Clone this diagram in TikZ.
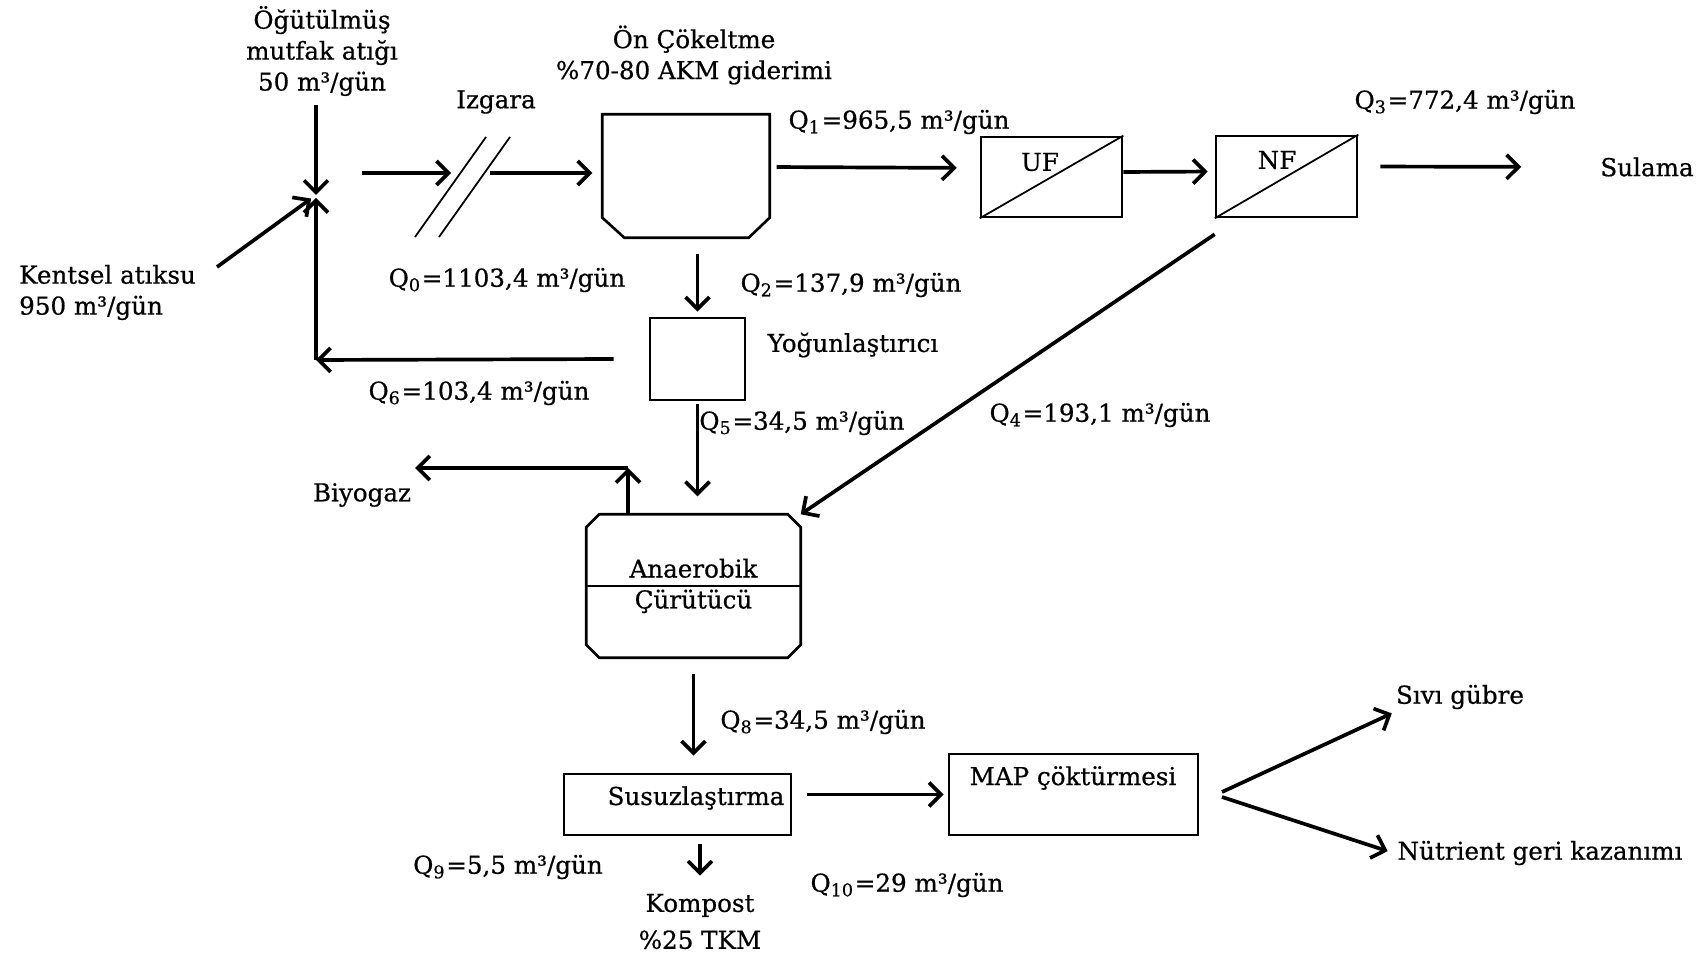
\documentclass[tikz,border=0pt]{standalone}
\usepackage{fontspec}
\setmainfont{DejaVu Serif}[FakeBold=0.6]
\usepackage{tikz}
\usetikzlibrary{arrows.meta,positioning,calc}
\newcommand{\Qi}[1]{Q\textsubscript{#1}}
\newcommand{\gun}{m³/gün}

\begin{document}
\begin{tikzpicture}[
    txt/.style={font=\fontsize{7}{8.8}\selectfont, inner sep=1pt, align=center},
    unitbox/.style={draw, line width=0.75pt, inner sep=0pt},
    flow/.style={-{Straight Barb[length=1.2mm,width=2.4mm]}, line width=1.05pt},
    thinline/.style={line width=0.5pt}
]
\useasboundingbox (0,0) rectangle (17.06,-9.56);

% process units
\node[minimum width=1.66cm, minimum height=1.22cm, inner sep=0pt] (onc) at (6.86,-1.76) {};
\draw[line width=0.75pt] (onc.north west) -- ([yshift=2mm]onc.south west) -- ([xshift=2.2mm]onc.south west)
    -- ([xshift=-2.1mm]onc.south east) -- ([yshift=2mm]onc.south east) -- (onc.north east) -- cycle;
\node[unitbox, minimum width=0.95cm, minimum height=0.82cm] (yog) at (6.975,-3.59) {};
\node[unitbox, minimum width=1.41cm, minimum height=0.80cm] (uf) at (10.515,-1.77) {};
\node[unitbox, minimum width=1.41cm, minimum height=0.81cm] (nf) at (12.865,-1.765) {};
\draw[thinline] (uf.south west) -- (uf.north east);
\draw[thinline] (nf.south west) -- (nf.north east);
\node[txt, minimum width=2.13cm, minimum height=1.42cm] (dig) at (6.935,-5.86) {Anaerobik\\Çürütücü};
\draw[line width=0.75pt] ([xshift=1.3mm]dig.north west) -- ([xshift=-1.3mm]dig.north east)
    -- ([yshift=-1.3mm]dig.north east) -- ([yshift=1.3mm]dig.south east) -- ([xshift=-1.3mm]dig.south east)
    -- ([xshift=1.3mm]dig.south west) -- ([yshift=1.3mm]dig.south west) -- ([yshift=-1.3mm]dig.north west) -- cycle;
\draw[line width=0.75pt] (dig.west) -- (dig.east);
\node[unitbox, minimum width=2.27cm, minimum height=0.61cm] (sus) at (6.775,-8.045) {};
\node[unitbox, minimum width=2.49cm, minimum height=0.81cm] (map) at (10.735,-7.945) {};

% screen
\draw[thinline] (4.15,-2.37) -- (4.86,-1.37);
\draw[thinline] (4.39,-2.37) -- (5.10,-1.37);

% texts
\node[txt] (mutfak) at (3.22,-0.51) {Öğütülmüş\\mutfak atığı\\50 \gun};
\node[txt, anchor=west, align=left] (kentsel) at (0.15,-2.925) {Kentsel atıksu\\950 \gun};
\node[txt] (izgara) at (4.96,-1.02) {Izgara};
\node[txt] (onct) at (6.94,-0.55) {Ön Çökeltme\\\%70-80 AKM giderimi};
\node[txt] (uft) at (10.40,-1.62) {UF};
\node[txt] (nft) at (12.77,-1.60) {NF};
\node[txt] (yogt) at (8.53,-3.45) {Yoğunlaştırıcı};
\node[txt] (sust) at (6.96,-7.98) {Susuzlaştırma};
\node[txt] (mapt) at (10.73,-7.78) {MAP çöktürmesi};
\node[txt] (sulama) at (16.47,-1.67) {Sulama};
\node[txt] (biyogaz) at (3.62,-4.95) {Biyogaz};
\node[txt] (kompost) at (7.00,-9.215) {Kompost\\[1.7pt]\%25 TKM};
\node[txt] (sivi) at (14.60,-6.97) {Sıvı gübre};
\node[txt] (nutrient) at (15.40,-8.53) {Nütrient geri kazanımı};

% flow rates
\node[txt] (q0) at (5.07,-2.80) {\Qi{0}=1103,4 \gun};
\node[txt] (q1) at (8.99,-1.22) {\Qi{1}=965,5 \gun};
\node[txt] (q2) at (8.51,-2.85) {\Qi{2}=137,9 \gun};
\node[txt] (q3) at (14.65,-1.02) {\Qi{3}=772,4 \gun};
\node[txt] (q4) at (11.00,-4.15) {\Qi{4}=193,1 \gun};
\node[txt] (q5) at (8.02,-4.23) {\Qi{5}=34,5 \gun};
\node[txt] (q6) at (4.79,-3.93) {\Qi{6}=103,4 \gun};
\node[txt] (q8) at (8.23,-7.22) {\Qi{8}=34,5 \gun};
\node[txt] (q9) at (5.08,-8.67) {\Qi{9}=5,5 \gun};
\node[txt] (q10) at (9.07,-8.85) {\Qi{10}=29 \gun};

% free ends
\coordinate (jn) at (3.16,-1.95);
\coordinate (rc) at (3.16,-3.60);
\coordinate (kin) at (2.17,-2.67);
\coordinate (in0) at (3.62,-1.73);
\coordinate (scrin) at (4.51,-1.73);
\coordinate (scrout) at (4.90,-1.73);
\coordinate (bg) at (6.28,-4.68);
\coordinate (spl) at (12.22,-7.92);

% connectors
\draw[flow, shorten <=0.5mm] (jn |- mutfak.south) -- (jn);
\draw[flow, shorten >=0.6mm] (kin) -- (jn);
\draw[flow] ([xshift=-3.5mm]yog.west) -- (rc);
\draw[flow, shorten >=0.3mm] (rc) -- (jn);
\draw[flow] (in0) -- (scrin);
\draw[flow, shorten >=1mm] (scrout) -- (scrout -| onc.west);
\draw[flow, shorten <=0.7mm, shorten >=2.3mm] ([yshift=0.9mm]onc.east) -- ([yshift=0.9mm]uf.west);
\draw[flow, shorten >=0.7mm] ([yshift=0.5mm]uf.east) -- ([yshift=0.5mm]nf.west);
\draw[flow, shorten <=2.2mm, shorten >=7.5mm] ([yshift=1mm]nf.east) -- (sulama.west);
\draw[flow, shorten <=1.6mm, shorten >=0.5mm] (yog.north |- onc.south) -- (yog.north);
\draw[flow, shorten <=0.3mm, shorten >=1.8mm] (yog.south) -- (yog.south |- dig.north);
\draw[flow] ([yshift=-1.6mm]nf.south west) -- (dig.north east);
\draw[flow] ([xshift=-6.55mm]dig.north) -- (bg);
\draw[flow] (bg) -- (bg -| biyogaz.east);
\draw[flow, shorten <=1.6mm, shorten >=1.7mm] (dig.south) -- (dig.south |- sus.north);
\draw[flow, shorten <=0.8mm, shorten >=1.4mm] (kompost.north |- sus.south) -- (kompost.north);
\draw[flow, shorten <=1.5mm, shorten >=0.4mm] (sus.east |- map.west) -- (map.west);
\draw[flow] (spl) -- (sivi.south west);
\draw[flow, shorten >=0.6mm] ([yshift=-0.5mm]spl) -- (nutrient.west);
\end{tikzpicture}
\end{document}
